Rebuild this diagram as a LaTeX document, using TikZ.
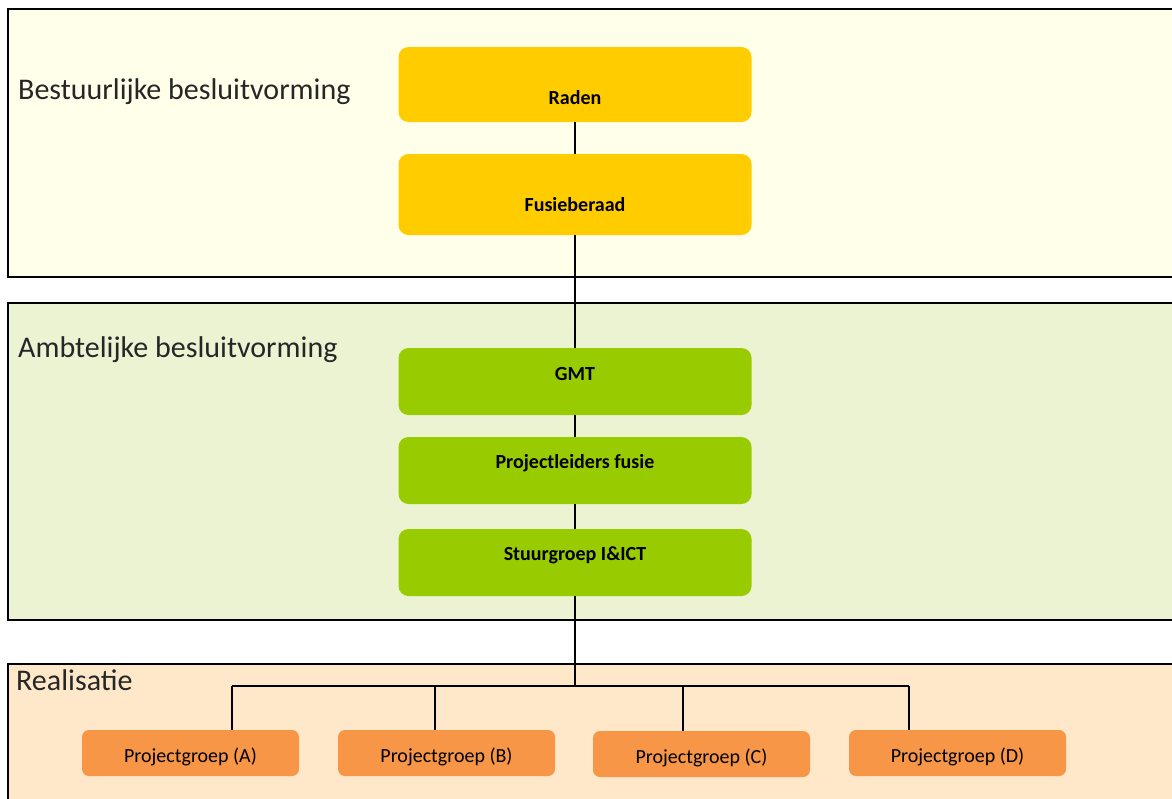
\documentclass[tikz,border=0pt]{standalone}
\usepackage{fontspec}
\setmainfont{Carlito}
\usetikzlibrary{positioning}
\definecolor{bandyellow}{HTML}{FFFFEA}
\definecolor{bandgreen}{HTML}{EBF3D2}
\definecolor{bandpeach}{HTML}{FFE8CA}
\definecolor{boxyellow}{HTML}{FFCC00}
\definecolor{boxgreen}{HTML}{99CC00}
\definecolor{boxorange}{HTML}{F79646}
\tikzset{
band/.style={draw=black, line width=1.6pt, anchor=north west, inner sep=0pt, minimum width=1200pt},
bandtext/.style={anchor=west, inner sep=0pt, text=black!85, font=\fontsize{30}{34}\selectfont},
}

\begin{document}
\begin{tikzpicture}
    [x=1pt, y=-1pt,
    box/.style={rounded corners=10pt, minimum width=353pt, inner sep=0pt},
    boxtext/.style={inner sep=0pt, font=\fontsize{20}{24}\selectfont\bfseries},
    pgroup/.style={rounded corners=7pt, fill=boxorange, minimum width=217pt, minimum height=46pt, inner sep=0pt,
        text height=20pt, text depth=1pt, font=\fontsize{20}{24}\selectfont},
    ]
    \clip (0,0) rectangle (1172,798);

    % lagen
    \node [band, fill=bandyellow, minimum height=268pt] (bestuur) at (7,8) {};
    \node [band, fill=bandgreen, minimum height=317pt] (ambt) at (7,302) {};
    \node [band, fill=bandpeach, minimum height=200pt] (real) at (7,663) {};

    \node [bandtext] (tbestuur) at (18,92) {Bestuurlijke besluitvorming};
    \node [bandtext] (tambt) at (18,350) {Ambtelijke besluitvorming};
    \node [bandtext] (treal) at (16,680) {Realisatie};

    % bestuurlijk
    \node [box, fill=boxyellow, minimum height=75pt,
        label={[boxtext, yshift=-13pt]center:Raden}] (raden) at (575,84.5) {};
    \node [box, fill=boxyellow, minimum height=81pt,
        label={[boxtext, yshift=-10pt]center:Fusieberaad}] (fusie) at (575,194.5) {};

    % ambtelijk
    \node [box, fill=boxgreen, minimum height=67pt,
        label={[boxtext, yshift=7pt]center:GMT}] (gmt) at (575,381.5) {};
    \node [box, fill=boxgreen, minimum height=67pt,
        label={[boxtext, yshift=7pt]center:Projectleiders fusie}] (pleiders) at (575,470.5) {};
    \node [box, fill=boxgreen, minimum height=67pt,
        label={[boxtext, yshift=7pt]center:Stuurgroep I\&ICT}] (stuur) at (575,562.5) {};

    % realisatie
    \node [pgroup] (pgA) at (190.5,753) {Projectgroep (A)};
    \node [pgroup] (pgB) at (446.5,753) {Projectgroep (B)};
    \node [pgroup] (pgC) at (701.5,754) {Projectgroep (C)};
    \node [pgroup] (pgD) at (957.5,753) {Projectgroep (D)};

    \coordinate (bus) at (575,686);
    \coordinate (tA) at (232,686);
    \coordinate (tB) at (435,686);
    \coordinate (tC) at (683,686);
    \coordinate (tD) at (909,686);

    \begin{scope}[line width=1.8pt]
    \draw (raden) -- (fusie);
    \draw (fusie) -- (gmt);
    \draw (gmt) -- (pleiders);
    \draw (pleiders) -- (stuur);
    \draw (stuur) -- (bus);
    \draw (tA) -- (tD);
    \draw (tA) -- (tA |- pgA.north);
    \draw (tB) -- (tB |- pgB.north);
    \draw (tC) -- (tC |- pgC.north);
    \draw (tD) -- (tD |- pgD.north);
    \end{scope}

\end{tikzpicture}
\end{document}
